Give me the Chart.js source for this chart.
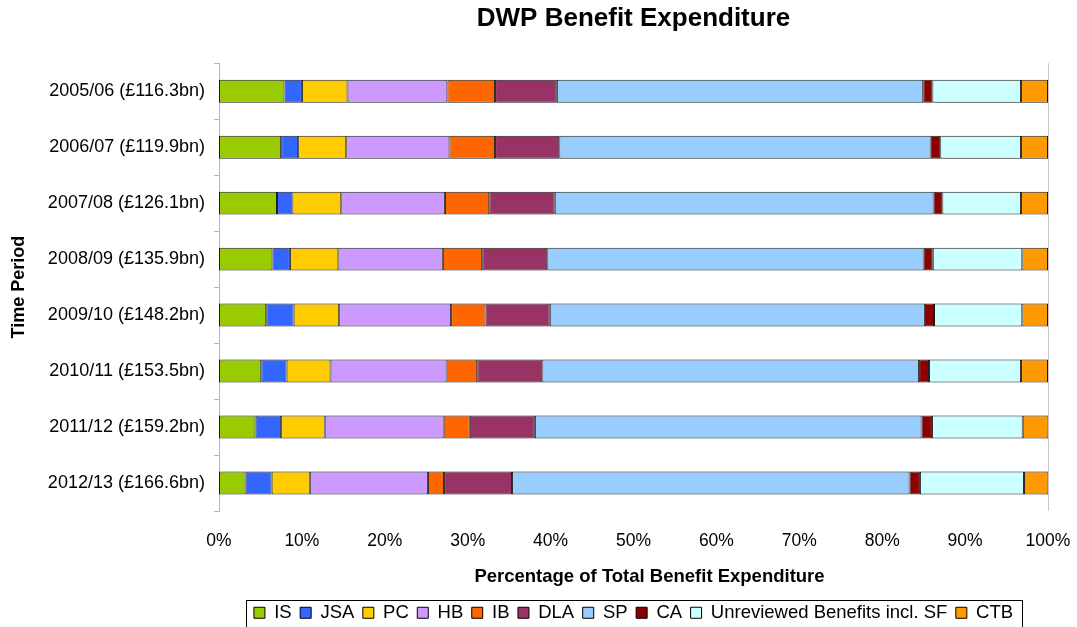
<!DOCTYPE html>
<html>
<head>
<meta charset="utf-8">
<script src="https://cdn.jsdelivr.net/npm/chart.js@4/dist/chart.umd.min.js"></script>
<style>
    html, body { margin: 0; padding: 0; background: #fff; }
    #wrap { width: 1077px; height: 627px; }
</style>
</head>
<body>
<div id="wrap"><canvas id="barChart" width="1077" height="627"></canvas></div>
<script>
// categories (time periods)
var periods = ['2005/06 (£116.3bn)', '2006/07 (£119.9bn)', '2007/08 (£126.1bn)', '2008/09 (£135.9bn)',
    '2009/10 (£148.2bn)', '2010/11 (£153.5bn)', '2011/12 (£159.2bn)', '2012/13 (£166.6bn)'];

// share of total expenditure, %
var IS = [7.9, 7.5, 7.0, 6.45, 5.7, 5.1, 4.4, 3.2];
var JSA = [2.1, 2.05, 1.85, 2.1, 3.3, 3.05, 3.1, 3.15];
var PC = [5.5, 5.8, 5.9, 5.85, 5.5, 5.3, 5.25, 4.6];
var HB = [12.05, 12.45, 12.5, 12.6, 13.5, 14.0, 14.35, 14.25];
var IB = [5.75, 5.5, 5.35, 4.75, 4.15, 3.7, 3.15, 1.95];
var DLA = [7.45, 7.75, 7.9, 7.85, 7.75, 7.85, 7.85, 8.2];
var SP = [44.2, 44.8, 45.7, 45.4, 45.25, 45.45, 46.65, 47.95];
var CA = [1.1, 1.15, 1.05, 1.1, 1.1, 1.2, 1.25, 1.25];
var UB = [10.7, 9.75, 9.5, 10.8, 10.65, 11.1, 10.95, 12.55];
var CTB = [3.25, 3.25, 3.25, 3.1, 3.1, 3.25, 3.1, 2.95];

var xTicks = [0, 10, 20, 30, 40, 50, 60, 70, 80, 90, 100];
var xTitle = 'Percentage of Total Benefit Expenditure';

var FONT = 'Liberation Sans, Arial, sans-serif';

function ds(label, values, color) {
    return {
        label: label,
        data: values,
        backgroundColor: color,
        borderColor: '#1a1a1a',
        borderWidth: 1,
        borderSkipped: false,
        barPercentage: 0.41,
        categoryPercentage: 1.0
    };
}

var data = {
    labels: periods,
    datasets: [
        ds('IS', IS, '#99CC00'),
        ds('JSA', JSA, '#3366FF'),
        ds('PC', PC, '#FFCC00'),
        ds('HB', HB, '#CC99FF'),
        ds('IB', IB, '#FF6600'),
        ds('DLA', DLA, '#993366'),
        ds('SP', SP, '#99CCFF'),
        ds('CA', CA, '#8B0000'),
        ds('Unreviewed Benefits incl. SF', UB, '#CCFFFF'),
        ds('CTB', CTB, '#FF9900')
    ]
};

// legend frame, right border of plot, x axis title (sits a bit right of centre)
var framePlugin = {
    id: 'framePlugin',
    afterDraw: function (chart) {
        var c = chart.ctx;
        var a = chart.chartArea;
        c.save();
        c.strokeStyle = '#c8c8c8';
        c.lineWidth = 1;
        c.beginPath();
        c.moveTo(Math.round(a.right) + 0.5, a.top);
        c.lineTo(Math.round(a.right) + 0.5, a.bottom);
        c.stroke();

        c.fillStyle = '#000';
        c.font = 'bold 18.5px ' + FONT;
        c.textAlign = 'center';
        c.textBaseline = 'middle';
        c.fillText(xTitle, (a.left + a.right) / 2 + 16, a.bottom + 66);

        var boxes = chart.legend.legendHitBoxes;
        if (boxes && boxes.length) {
            var l = boxes[0].left, r = boxes[0].left + boxes[0].width;
            var t = boxes[0].top;
            boxes.forEach(function (h) {
                l = Math.min(l, h.left); r = Math.max(r, h.left + h.width);
                t = Math.min(t, h.top);
            });
            c.strokeStyle = '#000';
            c.strokeRect(Math.round(l - 8) + 0.5, Math.round(t - 4) + 0.5, Math.round(r - l + 17), 40);
        }
        c.restore();
    }
};

var ctx = document.getElementById('barChart').getContext('2d');
var myBarChart = new Chart(ctx, {
    type: 'bar',
    data: data,
    options: {
        indexAxis: 'y',
        responsive: false,
        animation: false,
        events: [],
        layout: { padding: { left: 8, right: 29, top: 0, bottom: -5 } },
        scales: {
            x: {
                stacked: true,
                min: 0,
                max: 100,
                afterBuildTicks: function (scale) {
                    scale.ticks = xTicks.map(function (v) { return { value: v }; });
                },
                afterFit: function (scale) {
                    scale.height = 84;
                    scale.paddingLeft = 0;
                    scale.paddingRight = 0;
                },
                grid: { display: false, drawTicks: false },
                border: { display: false },
                ticks: {
                    padding: 20,
                    maxRotation: 0,
                    color: '#000',
                    font: { family: FONT, size: 17.5 },
                    callback: function (v) { return v + '%'; }
                }
            },
            y: {
                stacked: true,
                afterFit: function (scale) { scale.width = 211; },
                grid: { display: true, drawOnChartArea: false, offset: true, tickLength: 5, color: '#b4b4b4' },
                border: { display: true, color: '#b4b4b4' },
                ticks: {
                    padding: 9,
                    color: '#000',
                    font: { family: FONT, size: 18 }
                },
                title: {
                    display: true,
                    text: 'Time Period',
                    color: '#000',
                    font: { family: FONT, size: 18, weight: 'bold' },
                    padding: { top: 0, bottom: 0 }
                }
            }
        },
        plugins: {
            title: {
                display: true,
                fullSize: false,
                text: 'DWP Benefit Expenditure',
                color: '#000',
                font: { family: FONT, size: 26, weight: 'bold' },
                padding: { top: 3, bottom: 29 }
            },
            legend: {
                display: true,
                position: 'bottom',
                fullSize: false,
                labels: {
                    color: '#000',
                    boxWidth: 11,
                    boxHeight: 11,
                    padding: 8.5,
                    font: { family: FONT, size: 18.5 },
                    generateLabels: function (chart) {
                        return chart.data.datasets.map(function (d, i) {
                            return {
                                text: d.label,
                                fillStyle: d.backgroundColor,
                                strokeStyle: '#000',
                                lineWidth: 1,
                                fontColor: '#000',
                                datasetIndex: i
                            };
                        });
                    }
                }
            },
            tooltip: { enabled: false }
        }
    },
    plugins: [framePlugin]
});
</script>
</body>
</html>
